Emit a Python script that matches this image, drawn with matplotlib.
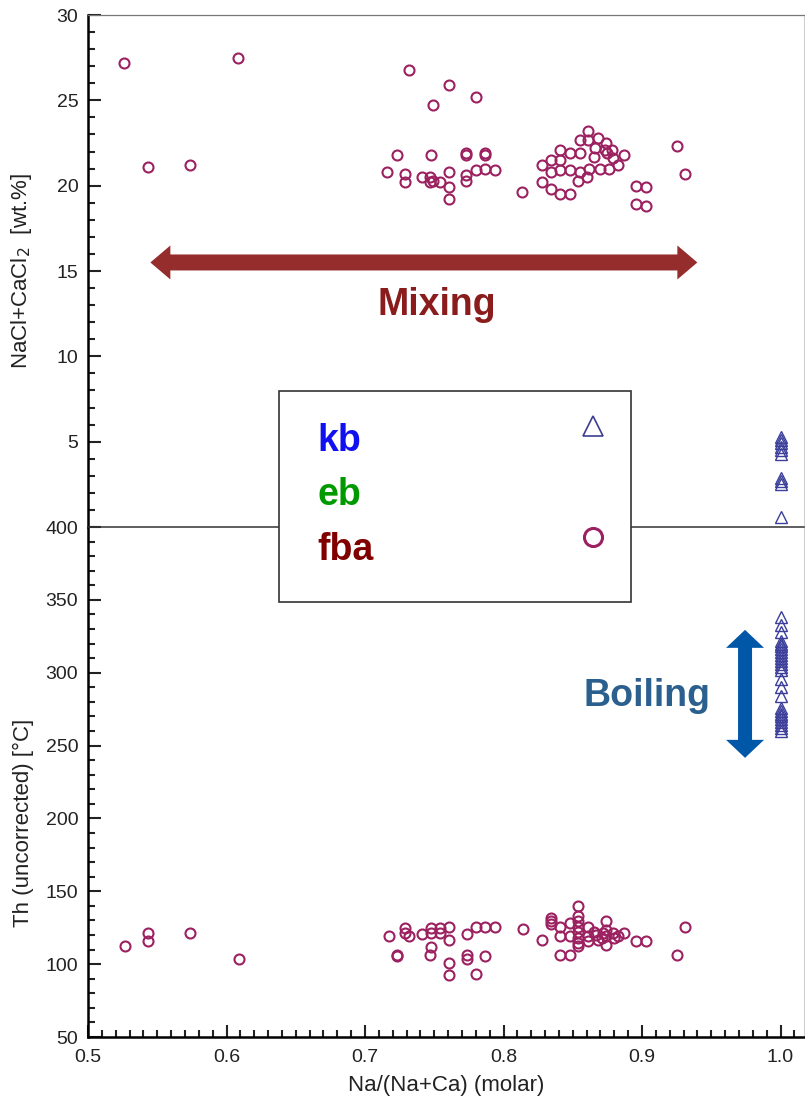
import matplotlib
matplotlib.use("Agg")
import matplotlib.pyplot as plt
from matplotlib.patches import Rectangle, Polygon
from matplotlib.lines import Line2D
from matplotlib.ticker import MultipleLocator
from matplotlib.transforms import ScaledTranslation

plt.rcParams['font.family'] = ['Liberation Sans', 'DejaVu Sans']

# fba inclusions: salinity panel (Na/(Na+Ca), wt.%)
fba_ratio_sal = [0.526, 0.543, 0.574, 0.608, 0.732, 0.749, 0.761, 0.780,
                 0.723, 0.748, 0.773, 0.773, 0.787, 0.787,
                 0.716, 0.729, 0.729, 0.741, 0.747, 0.747, 0.749, 0.754,
                 0.761, 0.761, 0.761, 0.773, 0.773, 0.780, 0.787, 0.794,
                 0.813, 0.828, 0.828, 0.834, 0.834, 0.834,
                 0.841, 0.841, 0.841, 0.841, 0.848, 0.848, 0.848,
                 0.855, 0.855, 0.855, 0.854, 0.861, 0.861, 0.860, 0.862,
                 0.868, 0.866, 0.865, 0.870, 0.874, 0.873, 0.875, 0.878,
                 0.879, 0.876, 0.883, 0.887, 0.896, 0.903, 0.896, 0.903,
                 0.925, 0.931]
fba_sal = [27.2, 21.1, 21.2, 27.5, 26.8, 24.7, 25.9, 25.2,
           21.8, 21.8, 21.8, 21.9, 21.8, 21.9,
           20.8, 20.7, 20.2, 20.5, 20.5, 20.2, 20.3, 20.2,
           20.8, 19.9, 19.2, 20.6, 20.3, 20.9, 21.0, 20.9,
           19.6, 21.2, 20.2, 21.5, 20.8, 19.8,
           22.1, 21.5, 20.9, 19.5, 19.5, 21.9, 20.9,
           22.7, 21.9, 20.8, 20.3, 23.2, 22.7, 20.5, 21.0,
           22.8, 22.2, 21.7, 21.0, 22.5, 22.1, 21.9, 22.1,
           21.6, 21.0, 21.2, 21.8, 20.0, 19.9, 18.9, 18.8,
           22.3, 20.7]

# fba inclusions: homogenization temperature panel
fba_ratio_th = [0.527, 0.543, 0.543, 0.574, 0.609,
                0.717, 0.723, 0.723, 0.729, 0.729, 0.732, 0.741,
                0.748, 0.748, 0.748, 0.747, 0.754, 0.754,
                0.761, 0.761, 0.761, 0.761, 0.774, 0.774, 0.774,
                0.780, 0.780, 0.787, 0.787, 0.794, 0.814, 0.828,
                0.834, 0.834, 0.834, 0.841, 0.841, 0.841, 0.848, 0.848, 0.848,
                0.854, 0.854, 0.854, 0.854, 0.854, 0.854, 0.854, 0.854,
                0.861, 0.861, 0.861, 0.865, 0.867, 0.868,
                0.874, 0.874, 0.874, 0.874, 0.872, 0.871, 0.879, 0.880,
                0.883, 0.887, 0.896, 0.903, 0.925, 0.931]
fba_th = [112.6, 121.3, 116.2, 121.7, 103.7,
          119.5, 105.7, 106.5, 124.7, 121.3, 119.0, 120.8,
          124.7, 121.3, 111.7, 106.0, 124.7, 121.3,
          125.8, 116.7, 100.7, 92.7, 120.8, 106.4, 103.5,
          125.8, 93.4, 125.8, 105.3, 125.8, 124.3, 116.5,
          131.6, 129.3, 127.3, 125.8, 119.5, 106.4, 106.4, 128.2, 119.5,
          139.6, 132.7, 129.3, 125.8, 122.4, 117.9, 114.4, 112.6,
          125.8, 119.0, 116.2, 122.4, 120.2, 116.7,
          129.3, 123.6, 119.0, 113.3, 121.3, 117.9, 121.3, 117.9,
          119.0, 121.7, 116.2, 115.6, 106.4, 125.8]

# kb inclusions, all at Na/(Na+Ca) = 1
kb_sal = [5.3, 5.1, 4.9, 4.7, 4.5, 4.3, 2.9, 2.7, 2.5, 0.6]
kb_th = [338, 333, 328, 322, 320, 318, 316, 314, 312, 310, 308, 306, 304, 302,
         296, 290, 284, 276, 274, 272, 270, 268, 266, 264, 262, 260]

legend_names = ['kb', 'eb', 'fba']
legend_colors = ['#1010F0', '#009A00', '#800000']

circle_color = '#9B2160'
tri_color = '#3B3F99'
W, H = 805, 1099

fig = plt.figure(figsize=(W / 100, H / 100), dpi=100)
ax_top = fig.add_axes([88 / W, 1 - 527 / H, 716 / W, 512 / H])
ax_bot = fig.add_axes([88 / W, 1 - 1037 / H, 716 / W, 510 / H], sharex=ax_top)

for ax in (ax_top, ax_bot):
    ax.spines['left'].set_linewidth(1.8)
    ax.spines['right'].set_color('#d0d0d0')
    ax.spines['right'].set_linewidth(0.8)
    ax.tick_params(axis='both', which='both', direction='in', right=False, top=False,
                   labelsize=14, colors='#222222', width=1.5, pad=7)
    ax.tick_params(which='major', length=9)
    ax.tick_params(which='minor', length=5)

ax_top.spines['bottom'].set_visible(False)
ax_top.spines['top'].set_color('#777777')
ax_top.spines['top'].set_linewidth(0.9)
ax_top.tick_params(axis='x', which='both', bottom=False, labelbottom=False)
ax_bot.spines['top'].set_color('#333333')
ax_bot.spines['top'].set_linewidth(1.1)
ax_bot.spines['bottom'].set_linewidth(1.8)

ax_top.plot(fba_ratio_sal, fba_sal, 'o', ms=7.2, mfc='none', mec=circle_color, mew=1.5)
ax_top.plot([1.0] * len(kb_sal), kb_sal, '^', ms=8, mfc='none', mec=tri_color, mew=1.0,
            clip_on=False)
ax_bot.plot(fba_ratio_th, fba_th, 'o', ms=7.2, mfc='none', mec=circle_color, mew=1.5)
ax_bot.plot([1.0] * len(kb_th), kb_th, '^', ms=8, mfc='none', mec=tri_color, mew=1.0)

ax_top.set_xlim(0.5, 0.5 + 716 / 1385)
ax_top.set_ylim(0, 30)
ax_top.yaxis.set_major_locator(MultipleLocator(5))
ax_top.yaxis.set_minor_locator(MultipleLocator(1))
ax_top.set_yticks([5, 10, 15, 20, 25, 30])

ax_bot.set_ylim(50, 400)
ax_bot.yaxis.set_major_locator(MultipleLocator(50))
ax_bot.yaxis.set_minor_locator(MultipleLocator(10))
ax_bot.xaxis.set_major_locator(MultipleLocator(0.1))
ax_bot.xaxis.set_minor_locator(MultipleLocator(0.01))
ax_bot.xaxis.set_major_formatter(plt.FormatStrFormatter('%.1f'))
ax_bot.tick_params(axis='x', pad=9)

ax_top.set_ylabel(r'NaCl+CaCl$_2$  [wt.%]', fontsize=16, color='#222222')
ax_bot.set_ylabel('Th (uncorrected) [°C]', fontsize=16, color='#222222')
ax_bot.set_xlabel('Na/(Na+Ca) (molar)', fontsize=16, color='#222222', labelpad=6)
ax_top.yaxis.set_label_coords(-0.075, 0.5)
ax_bot.yaxis.set_label_coords(-0.075, 0.42)


def double_arrow(ax, center, length, shaft, head_w, head_l, color, vertical=False):
    # outline in inches around the center point, drawn as one polygon
    h = length / 2
    pts = [(-h, 0), (-h + head_l, head_w), (-h + head_l, shaft), (h - head_l, shaft),
           (h - head_l, head_w), (h, 0), (h - head_l, -head_w), (h - head_l, -shaft),
           (-h + head_l, -shaft), (-h + head_l, -head_w)]
    if vertical:
        pts = [(y, x) for x, y in pts]
    trans = fig.dpi_scale_trans + ScaledTranslation(center[0], center[1], ax.transData)
    ax.add_patch(Polygon(pts, closed=True, transform=trans, facecolor=color,
                         edgecolor='none', clip_on=False, zorder=4))


# mixing trend in salinity
double_arrow(ax_top, (0.7425, 15.5), 5.47, 0.08, 0.17, 0.20, '#962D2D')
ax_top.text(0.752, 12.4, 'Mixing', fontsize=27, fontweight='bold', color='#8A1C1C',
            ha='center', va='baseline')

# boiling trend in Th
double_arrow(ax_bot, (0.9744, 285.5), 1.28, 0.07, 0.19, 0.18, '#0057A8', vertical=True)
ax_bot.text(0.9036, 277, 'Boiling', fontsize=27, fontweight='bold', color='#2B5F8E',
            ha='center', va='baseline')

# legend box
fig.add_artist(Rectangle((279 / W, 1 - 602 / H), 352 / W, 211 / H, transform=fig.transFigure,
                         facecolor='white', edgecolor='#333333', lw=1.2, zorder=5))
for name, color, base in zip(legend_names, legend_colors, [451, 505, 560]):
    fig.text(317 / W, 1 - base / H, name, fontsize=27, fontweight='bold', color=color,
             va='baseline', zorder=6)
fig.add_artist(Line2D([593 / W], [1 - 426 / H], transform=fig.transFigure, marker='^',
                      ms=15, mfc='none', mec='#3D3D8F', mew=1.2, zorder=6))
fig.add_artist(Line2D([593 / W], [1 - 537 / H], transform=fig.transFigure, marker='o',
                      ms=13, mfc='none', mec=circle_color, mew=2.2, zorder=6))

fig.savefig('out.png', dpi=100)
